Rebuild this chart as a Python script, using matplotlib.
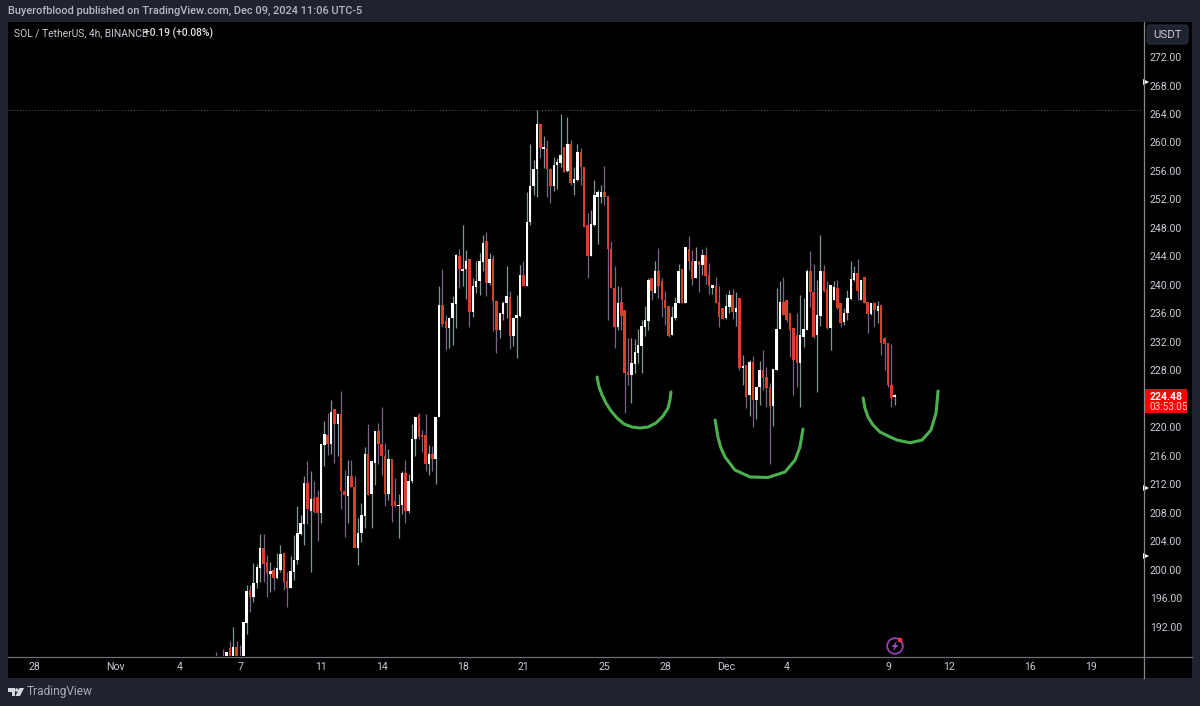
from matplotlib import pyplot as plt
from matplotlib.patches import Rectangle, FancyBboxPatch, Polygon, Circle
from matplotlib.transforms import blended_transform_factory
import numpy as np

plt.rcParams['font.family'] = ['Roboto', 'DejaVu Sans']

# 4h candles, oldest first
opens = [
    187.3,187.3,187.5,187.2,189.0,187.2,189.1,187.6,187.4,192.5,
    197.2,196.1,198.1,200.2,203.1,201.1,199.4,200.0,198.8,200.0,
    202.4,198.4,197.5,199.7,201.3,205.0,206.4,212.2,208.3,210.0,
    210.2,207.9,217.5,218.9,217.7,222.5,220.5,221.9,211.0,210.4,
    213.1,211.6,203.1,205.1,207.6,216.3,210.7,215.0,219.5,217.7,
    216.0,210.6,215.5,209.6,208.9,209.1,213.6,208.2,212.4,218.4,
    221.7,218.9,218.9,214.9,216.2,215.5,
    221.5,237.2,234.9,233.9,235.3,237.3,244.1,241.9,242.3,243.7,
    236.2,239.7,240.5,243.2,246.1,240.3,243.6,237.8,233.7,235.9,
    237.4,238.3,232.8,235.4,235.6,241.4,239.9,248.8,253.9,256.3,
    262.6,259.1,259.2,256.3,253.9,256.8,257.1,259.4,256.0,259.8,
    254.3,254.7,258.7,256.6,248.4,244.0,248.4,252.4,252.4,253.1,
    252.5,245.1,239.6,234.1,237.6,236.5,227.8,227.4,228.9,230.5,
    231.4,234.1,234.9,240.9,238.9,242.0,240.5,237.9,237.0,233.0,
    235.3,237.4,
    242.2,237.5,245.1,243.4,240.9,243.4,242.8,244.2,241.4,239.5,
    239.8,237.6,236.8,235.3,236.9,238.6,236.2,238.2,228.3,228.8,
    224.6,229.2,223.8,225.6,228.0,227.1,225.7,223.0,228.0,233.8,
    237.6,237.9,236.0,233.9,232.9,229.0,232.7,233.7,241.9,239.0,
    233.0,235.7,242.0,239.4,233.9,237.9,239.5,237.4,234.8,236.1,
    238.0,240.7,241.7,237.9,241.1,237.6,235.9,237.4,236.4,237.2,
    232.6,231.8,225.9,224.3]
closes = [
    187.0,187.0,187.2,188.4,187.2,189.1,187.4,187.3,192.6,197.0,
    196.2,198.2,200.4,203.1,200.8,199.5,199.8,198.9,200.2,202.2,
    198.3,197.5,199.8,201.4,205.1,206.5,212.2,208.5,209.9,208.1,
    208.0,217.6,219.1,217.7,222.1,220.5,221.9,211.0,210.5,213.1,
    211.6,203.1,205.1,207.7,216.3,210.5,215.2,219.5,217.7,216.0,
    210.6,215.5,208.9,208.9,209.1,213.6,208.3,212.4,218.4,221.5,
    218.7,218.7,214.9,216.2,215.5,221.4,
    237.2,234.5,233.9,235.4,237.4,244.2,242.3,242.3,243.3,236.2,
    239.8,240.5,243.3,245.9,240.2,243.6,237.7,233.7,236.0,237.5,
    238.4,232.8,235.4,235.8,241.4,239.9,248.8,253.9,256.3,262.6,
    259.2,259.3,256.3,253.9,256.8,257.2,258.3,255.9,259.8,254.3,
    254.9,258.6,256.6,248.1,244.0,248.6,252.6,253.0,253.0,252.4,
    245.0,239.6,234.1,237.4,235.6,227.6,227.4,229.0,230.6,231.5,
    234.2,235.0,240.7,239.1,242.0,239.9,237.9,236.8,232.8,235.5,
    237.5,242.0,
    237.5,245.3,243.3,240.8,243.4,242.8,244.2,241.2,239.8,240.0,
    237.4,235.5,235.2,237.1,238.6,236.2,236.7,228.3,228.6,224.3,
    229.2,223.8,225.7,228.0,226.9,225.5,223.0,228.2,233.8,237.6,
    235.8,235.0,233.7,229.4,229.0,232.9,233.8,241.9,239.0,232.7,
    235.8,242.0,239.2,233.9,240.0,239.7,236.8,234.7,236.1,238.1,
    240.8,241.7,239.2,240.7,237.5,235.9,237.4,236.5,237.0,231.8,
    231.7,225.9,224.1,224.48]
highs = [
    188.4,187.6,188.8,188.5,190.0,191.9,190.0,189.4,192.6,197.8,
    197.8,201.0,200.8,205.0,205.0,202.1,201.1,200.4,202.4,203.4,
    202.4,199.7,201.9,204.9,209.0,207.7,213.2,215.3,213.9,212.4,
    211.2,217.6,220.9,222.0,223.9,222.5,221.9,225.1,214.0,215.4,
    215.4,213.2,207.2,209.4,217.3,220.5,215.2,219.5,220.6,222.8,
    217.8,217.0,215.5,212.9,210.6,213.9,215.4,213.4,220.5,221.5,
    222.0,219.6,221.8,217.5,217.4,221.4,
    239.9,242.3,235.8,235.5,238.4,244.4,245.1,248.4,244.9,243.7,
    240.9,243.3,244.5,247.0,247.4,244.5,244.2,237.9,236.0,237.7,
    242.6,239.1,235.5,238.6,242.8,243.4,253.0,259.8,257.5,264.5,
    262.8,260.9,260.3,256.4,257.9,257.8,264.0,259.4,263.6,260.3,
    256.6,259.8,259.2,256.6,250.1,250.5,254.7,253.3,254.0,256.7,
    252.5,246.1,242.6,239.8,239.7,236.5,232.6,232.5,232.4,233.8,
    235.1,237.1,240.9,241.0,243.3,245.2,241.0,239.1,237.0,237.1,
    238.3,243.0,
    242.2,245.3,246.9,244.9,245.3,243.4,245.1,245.3,243.1,240.0,
    241.1,239.8,236.8,238.7,239.3,239.4,239.0,238.2,230.2,228.8,
    229.5,230.0,225.7,229.3,230.9,228.4,226.2,228.2,239.5,240.5,
    241.1,237.9,236.0,233.9,236.1,238.6,238.2,242.3,244.8,242.9,
    240.7,247.0,242.8,240.5,240.0,240.6,240.7,237.4,236.8,239.3,
    243.3,242.6,243.6,240.7,241.1,237.6,237.4,237.6,237.8,237.2,
    232.7,231.8,231.7,224.7]
lows = [
    186.0,186.5,186.5,186.8,186.5,186.5,186.8,186.5,187.0,191.0,
    194.1,195.5,197.4,198.3,198.3,196.2,196.9,197.1,198.7,199.7,
    197.2,194.8,197.4,198.6,200.8,204.9,203.4,206.4,199.7,208.0,
    204.0,206.5,214.5,216.1,216.3,215.0,216.0,208.5,204.6,206.5,
    211.6,203.0,200.7,203.9,205.9,210.5,205.9,211.9,214.9,213.3,
    208.9,209.8,206.7,208.8,204.4,207.8,206.6,208.0,212.2,215.9,
    218.4,216.6,213.8,213.3,213.9,212.0,
    221.5,234.1,230.9,231.2,231.6,233.9,239.5,239.8,238.0,234.1,
    235.5,238.8,238.6,241.9,238.4,240.0,233.5,230.4,232.5,235.1,
    235.3,231.0,231.4,229.7,235.5,239.9,239.9,248.4,252.6,252.3,
    257.8,256.4,252.4,251.5,253.2,253.4,256.6,255.8,255.9,254.0,
    252.6,254.6,254.0,248.1,240.9,244.0,248.3,245.8,251.5,251.2,
    235.1,239.5,231.1,233.6,233.7,222.0,226.0,223.4,227.6,229.0,
    227.6,232.8,233.7,237.9,238.9,238.1,235.5,234.4,232.7,233.0,
    235.1,237.4,
    237.5,237.5,242.1,240.0,240.9,239.0,241.4,240.1,238.7,238.7,
    237.4,234.1,235.2,235.2,236.0,235.2,234.2,228.0,225.9,222.7,
    221.6,220.0,221.2,223.1,225.2,222.9,214.9,220.2,228.0,233.8,
    235.8,234.8,229.9,224.5,225.7,222.9,231.3,233.7,236.9,232.5,
    224.9,234.2,239.0,233.8,230.9,237.9,236.6,234.1,234.4,235.1,
    237.9,240.6,237.9,237.9,237.4,233.2,235.8,234.1,234.6,230.2,
    228.0,225.7,222.8,223.2]

# x axis is days since Nov 1
last_day = 38.33
tick_days = [-4.17, -0.17, 3, 6, 10, 13, 17, 20, 24, 27, 30, 33, 38, 41, 45, 48]
tick_names = ['28', 'Nov', '4', '7', '11', '14', '18', '21', '25', '28', 'Dec', '4', '9', '12', '16', '19']
price_ticks = [192, 196, 200, 204, 208, 212, 216, 220, 228, 232, 236, 240, 244,
               248, 252, 256, 260, 264, 268, 272]
alert_prices = [268.5, 211.5, 201.9]

# hand drawn green smiles under the three lows
smile1_days = [23.63, 23.73, 23.88, 24.07, 24.32, 24.62, 24.96, 25.36, 25.75, 26.15, 26.54, 26.89, 27.14, 27.23, 27.28]
smile1_prices = [227.06, 225.66, 224.53, 223.41, 222.29, 221.30, 220.46, 220.04, 219.90, 220.04, 220.60, 221.58, 222.71, 223.83, 224.96]
smile2_days = [29.46, 29.60, 29.75, 29.95, 30.44, 31.19, 32.07, 32.91, 33.41, 33.65, 33.80]
smile2_prices = [221.02, 218.63, 217.08, 215.83, 214.0, 213.02, 212.95, 213.72, 215.40, 217.23, 219.76]
smile3_days = [36.77, 36.86, 37.01, 37.26, 37.60, 38.0, 38.44, 39.09, 39.68, 40.12, 40.37, 40.47]
smile3_prices = [224.11, 222.70, 221.44, 220.32, 219.34, 218.78, 218.21, 217.83, 218.21, 219.62, 222.0, 225.1]

FRAME = '#1f2330'
TEXT = '#c9ccd6'
W, H = 1200, 706

fig = plt.figure(figsize=(12, 7.06), dpi=100, facecolor=FRAME)

# black panel behind chart and both scales, plus all the chrome, in pixels
back = fig.add_axes([0, 0, 1, 1], zorder=0)
back.set_xlim(0, W)
back.set_ylim(H, 0)
back.axis('off')
back.add_patch(Rectangle((8, 22), 1184, 656, fc='black', ec='none'))

ax = fig.add_axes([8 / W, (H - 656) / H, 1135 / W, 634 / H], zorder=1)
ax.set_facecolor('black')
for s in ax.spines.values():
    s.set_visible(False)
ax.set_xlim(-5.457, 50.59)
ax.set_ylim(187.88, 276.92)

n = len(closes)
o = np.array(opens)
c = np.array(closes)
days = last_day - (n - 1 - np.arange(n)) / 6.0
up = c >= o
wick_colors = ['#7f9796' if u else '#7c6388' for u in up]
body_colors = ['#ffffff' if u else '#d8402c' for u in up]
ax.vlines(days, lows, highs, colors=wick_colors, lw=0.9, zorder=2)
ax.bar(days, np.maximum(np.abs(c - o), 0.2), bottom=np.minimum(o, c), width=0.125,
       color=body_colors, linewidth=0, zorder=3)

ax.axhline(max(highs), color='#555555', lw=0.7, ls=(0, (1, 2)), zorder=1)

for sx, sy in [(smile1_days, smile1_prices), (smile2_days, smile2_prices), (smile3_days, smile3_prices)]:
    ax.plot(sx, sy, color='#4caf50', lw=2.2, solid_capstyle='round', solid_joinstyle='round', zorder=4)

ax.set_xticks(tick_days)
ax.set_xticklabels(tick_names)
ax.set_yticks(price_ticks)
ax.set_yticklabels(['%.2f' % p for p in price_ticks])
ax.yaxis.tick_right()
ax.tick_params(axis='x', length=0, pad=4, labelsize=7.6, labelcolor=TEXT)
ax.tick_params(axis='y', length=0, pad=5, labelsize=7.6, labelcolor=TEXT)

# little arrows on the price scale
tr = blended_transform_factory(ax.transAxes, ax.transData)
ax.plot([1.003] * len(alert_prices), alert_prices, '>', color='white', ms=4.5, mew=0,
        transform=tr, clip_on=False, zorder=5)

# overlay for separators, labels, logo
top = fig.add_axes([0, 0, 1, 1], zorder=2)
top.set_xlim(0, W)
top.set_ylim(H, 0)
top.axis('off')
top.patch.set_alpha(0)

top.plot([1143.5, 1143.5], [22, 678], color='#85878f', lw=0.9)
top.plot([8, 1192], [656.5, 656.5], color='#6d6f78', lw=0.9)

top.text(8, 11, 'Buyerofblood published on TradingView.com, Dec 09, 2024 11:06 UTC-5',
         color='#b6b9c3', fontsize=7.9, weight='medium', va='center')
top.text(14, 33, 'SOL / TetherUS, 4h, BINANCE', color=TEXT, fontsize=7.4, va='center')
top.text(144, 33, '+0.19 (+0.08%)', color='#dfe1e8', fontsize=7.4, weight='medium', va='center')

top.add_patch(FancyBboxPatch((1147, 25), 41, 19, boxstyle='round,pad=0,rounding_size=3',
                             fc='#1f2330', ec='#2b2f3b', lw=0.8))
top.text(1167.5, 35, 'USDT', color=TEXT, fontsize=8.2, ha='center', va='center')

# last price tag
top.add_patch(Rectangle((1144, 389), 43, 24, fc='#ff0000', ec='none'))
top.text(1150, 396.5, '%.2f' % closes[-1], color='white', fontsize=7.6, weight='bold', va='center')
top.text(1150, 407, '03:53:05', color='#ffd0d0', fontsize=7.2, va='center')

# purple bolt icon
top.add_patch(Circle((895, 646), 7.8, fc='none', ec='#9a3fb5', lw=1.3))
top.add_patch(Polygon([(897, 641), (891.5, 647), (894.5, 647), (893, 651), (898.5, 645), (895.5, 645)],
                      fc='#a845c8', ec='none'))
top.add_patch(Circle((900, 640), 2.4, fc='#f23645', ec='none'))

# TradingView logo
logo = '#d6d8df'
top.add_patch(Polygon([(8, 688), (15, 688), (15, 696), (11.5, 696), (11.5, 691.5), (8, 691.5)], fc=logo, ec='none'))
top.add_patch(Circle((16.8, 690), 1.7, fc=logo, ec='none'))
top.add_patch(Polygon([(19.5, 688), (24, 688), (20, 696), (15.5, 696)], fc=logo, ec='none'))
top.text(27, 692, 'TradingView', color='#a9acb6', fontsize=8.6, va='center')

plt.savefig('out.png', dpi=100, facecolor=FRAME)
plt.close()
